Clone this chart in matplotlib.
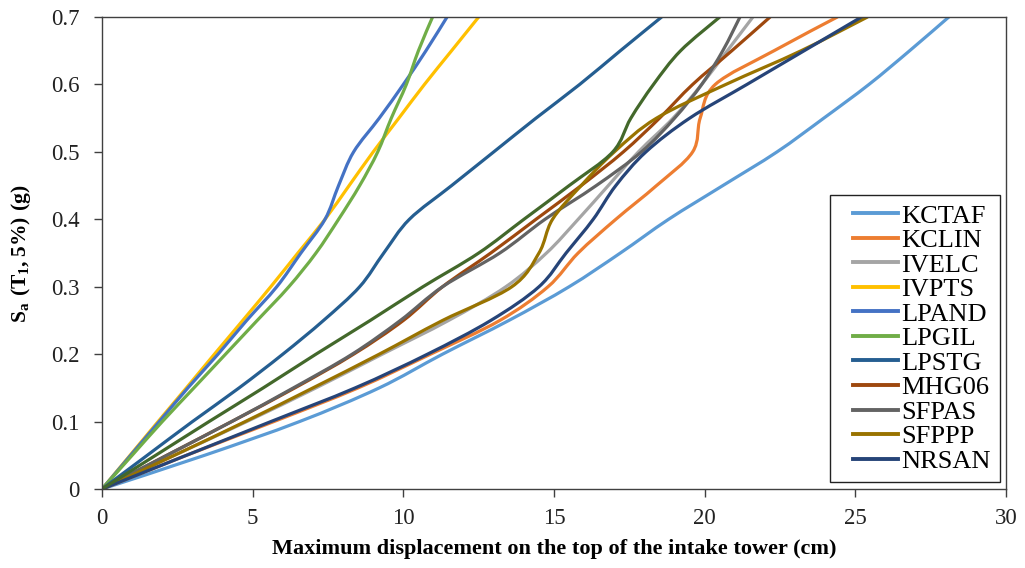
import numpy as np
import matplotlib
matplotlib.use('Agg')
import matplotlib.pyplot as plt
from matplotlib.path import Path
from matplotlib.patches import PathPatch
from matplotlib.lines import Line2D
from matplotlib.legend_handler import HandlerLine2D

plt.rcParams['font.family'] = ['Liberation Serif', 'DejaVu Serif']
plt.rcParams['mathtext.fontset'] = 'custom'
plt.rcParams['mathtext.rm'] = 'Liberation Serif'
plt.rcParams['mathtext.bf'] = 'Liberation Serif:bold'

# Sa levels (g) and max displacement (cm) of each record
sa = [0, 0.05, 0.1, 0.15, 0.2, 0.25, 0.3, 0.35, 0.4, 0.45, 0.5, 0.55, 0.6, 0.65, 0.7]
kctaf = [0, 3.4, 6.55, 9.2, 11.3, 13.5, 15.5, 17.2, 18.8, 20.6, 22.4, 23.95, 25.45, 26.8, 28.1]
kclin = [0, 2.8, 5.7, 8.5, 10.9, 13.2, 14.8, 15.8, 17.05, 18.4, 19.6, 19.85, 20.35, 22.3, 24.4]
ivelc = [0, 2.4, 4.8, 7.1, 9.3, 11.5, 13.4, 14.75, 15.8, 16.8, 17.8, 18.95, 19.9, 20.75, 21.6]
ivpts = [0, 0.93, 1.86, 2.8, 3.73, 4.67, 5.6, 6.5, 7.4, 8.2, 9.0, 9.85, 10.7, 11.6, 12.5]
lpand = [0, 0.95, 1.9, 2.85, 3.85, 4.8, 5.8, 6.6, 7.4, 7.85, 8.35, 9.2, 10.0, 10.75, 11.45]
lpgil = [0, 1.0, 2.0, 3.05, 4.1, 5.15, 6.2, 7.1, 7.85, 8.55, 9.15, 9.6, 10.1, 10.5, 10.97]
lpstg = [0, 1.5, 3.0, 4.55, 6.0, 7.35, 8.55, 9.35, 10.2, 11.6, 13.0, 14.4, 15.85, 17.2, 18.57]
mhg06 = [0, 2.15, 4.3, 6.4, 8.35, 10.0, 11.3, 12.9, 14.4, 15.9, 17.3, 18.5, 19.6, 20.9, 22.17]
sfpas = [0, 2.15, 4.3, 6.35, 8.3, 9.9, 11.3, 13.2, 14.7, 16.4, 17.9, 19.0, 19.9, 20.6, 21.17]
sfppp = [0, 2.4, 4.75, 7.0, 9.2, 11.3, 13.6, 14.5, 14.95, 15.9, 17.0, 18.4, 20.7, 23.2, 25.4]
nrsan = [0, 2.8, 5.6, 8.4, 10.8, 12.9, 14.5, 15.4, 16.3, 17.05, 18.05, 19.5, 21.4, 23.3, 25.2]
extra = [0, 1.78, 3.55, 5.35, 7.1, 8.9, 10.65, 12.5, 14.0, 15.5, 16.95, 17.55, 18.3, 19.2, 20.5]

names = ['KCTAF', 'KCLIN', 'IVELC', 'IVPTS', 'LPAND', 'LPGIL', 'LPSTG',
         'MHG06', 'SFPAS', 'SFPPP', 'NRSAN', None]
series = [kctaf, kclin, ivelc, ivpts, lpand, lpgil, lpstg, mhg06, sfpas, sfppp, nrsan, extra]
colors = ['#5B9BD5', '#ED7D31', '#A5A5A5', '#FFC000', '#4472C4', '#70AD47',
          '#255E91', '#9E480E', '#636363', '#997300', '#264478', '#43682B']


def smooth_path(x, y):
    # excel-like smoothed line: cubic bezier through the points
    pts = np.column_stack([x, y]).astype(float)
    n = len(pts)
    verts = [pts[0]]
    codes = [Path.MOVETO]
    for i in range(n - 1):
        p0 = pts[i - 1] if i > 0 else pts[i]
        p1 = pts[i]
        p2 = pts[i + 1]
        p3 = pts[i + 2] if i + 2 < n else pts[i + 1]
        verts += [p1 + (p2 - p0) / 6, p2 - (p3 - p1) / 6, p2]
        codes += [Path.CURVE4] * 3
    return Path(verts, codes)


fig = plt.figure(figsize=(10.25, 5.68), dpi=100)
ax = fig.add_axes([0.0995, 0.139, 0.882, 0.831])

handles = []
for name, xs, c in zip(names, series, colors):
    ax.add_patch(PathPatch(smooth_path(xs, sa), fill=False, edgecolor=c,
                           lw=2.3, capstyle='round', joinstyle='round'))
    if name:
        handles.append(Line2D([], [], color=c, lw=2.8, label=name))

ax.set_xlim(0, 30)
ax.set_ylim(0, 0.7)
ax.set_xticks(np.arange(0, 31, 5))
ax.set_yticks(np.arange(0, 0.71, 0.1))
ax.set_yticklabels(['0', '0.1', '0.2', '0.3', '0.4', '0.5', '0.6', '0.7'])
ax.tick_params(axis='both', direction='out', length=6, width=1, colors='#404040',
               labelcolor='#222222', labelsize=16.5)
ax.tick_params(axis='x', pad=8)
ax.tick_params(axis='y', pad=10)
for s in ax.spines.values():
    s.set_color('#404040')
    s.set_linewidth(1)

ax.set_xlabel('Maximum displacement on the top of the intake tower (cm)',
              fontsize=16, fontweight='bold', va='top')
ax.xaxis.set_label_coords(0.5, -0.106)
ax.set_ylabel(r'$\mathbf{S_a\ (T_1,5\%)\ (g)}$', fontsize=15.5)
ax.yaxis.set_label_coords(-0.076, 0.5)

leg = ax.legend(handles=handles, loc='lower right', bbox_to_anchor=(0.993, 0.0148),
                borderaxespad=0, fontsize=19, handlelength=2.25, handletextpad=0.1,
                labelspacing=0.04, fancybox=False, framealpha=1, borderpad=0.35,
                handler_map={Line2D: HandlerLine2D(xpad=0.55)})
leg.get_frame().set_edgecolor('#222222')
leg.get_frame().set_linewidth(1)

fig.savefig('out.png', dpi=100)
